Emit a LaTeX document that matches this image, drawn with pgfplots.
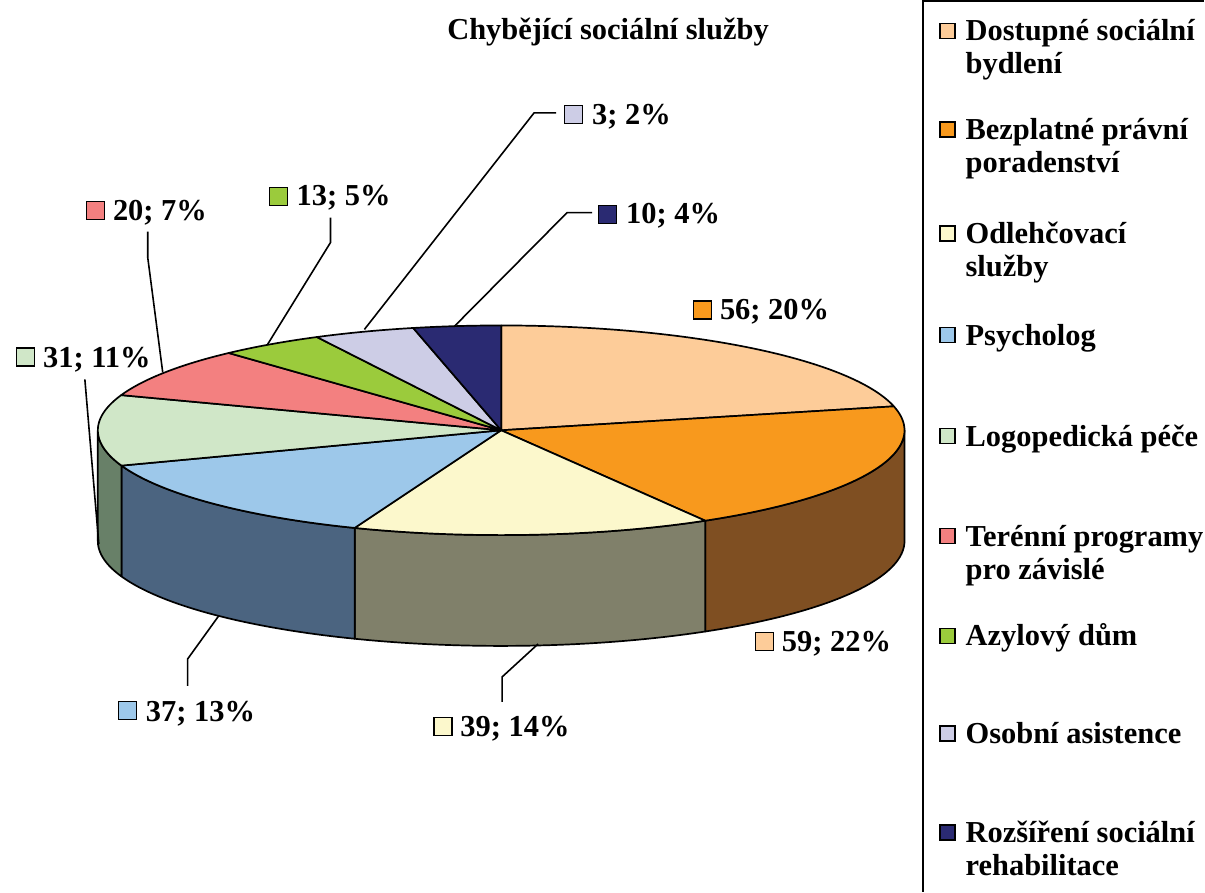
\documentclass[border=0pt]{standalone}
\usepackage{fontspec}
\setmainfont{Liberation Serif}
\usepackage{pgfplots}
\usepackage{pgfplotstable}
\pgfplotsset{compat=1.18}
\usepgfplotslibrary{fillbetween}

\definecolor{cPeach}{HTML}{FDCC99}
\definecolor{cOrange}{HTML}{F8991D}
\definecolor{cCream}{HTML}{FCF8CC}
\definecolor{cBlue}{HTML}{9DC8EA}
\definecolor{cLGreen}{HTML}{D0E7C8}
\definecolor{cPink}{HTML}{F38080}
\definecolor{cGreen}{HTML}{9BCB3C}
\definecolor{cLav}{HTML}{CDCDE6}
\definecolor{cNavy}{HTML}{2A2A72}
\definecolor{wOrange}{HTML}{7F4F22}
\definecolor{wCream}{HTML}{80806A}
\definecolor{wBlue}{HTML}{4B6480}
\definecolor{wLGreen}{HTML}{688068}

% slice sizes (degrees, as drawn), top colour, wall colour
\pgfplotstableread{
deg  top     wall
76.8 cPeach  wOrange
72.8 cOrange wOrange
51.7 cCream  wCream
49.0 cBlue   wBlue
39.3 cLGreen wLGreen
27.9 cPink   wLGreen
15.3 cGreen  wLGreen
14.6 cLav    wLGreen
12.6 cNavy   wLGreen
}\piedata

\newcommand\lbl[1]{\fontsize{30.5}{33}\selectfont\bfseries #1}

\begin{document}
\begin{tikzpicture}
\begin{axis}[
  width=1205pt, height=892pt, scale only axis,
  xmin=0, xmax=1205, ymin=0, ymax=892, y dir=reverse,
  hide axis, clip=false, enlargelimits=false,
]
\path (axis cs:0,0) rectangle (axis cs:1205,892);

% ---- walls (front half only)
\def\cum{90}
\pgfplotsforeachungrouped \i in {0,...,8}{%
  \pgfplotstablegetelem{\i}{deg}\of\piedata \let\dd\pgfplotsretval
  \pgfplotstablegetelem{\i}{wall}\of\piedata \let\wcol\pgfplotsretval
  \pgfmathsetmacro\sA{\cum}
  \pgfmathsetmacro\eA{\cum-\dd}
  \let\cum\eA
  \pgfmathsetmacro\ws{min(\sA,0)}
  \pgfmathsetmacro\we{max(\eA,-180)}
  \ifdim\ws pt>\we pt
    \edef\dowall{%
      \noexpand\addplot[draw=none, name path=T\i, domain=\we:\ws, samples=60] ({502+404*cos(x)},{431-105*sin(x)});
      \noexpand\addplot[draw=none, name path=B\i, domain=\we:\ws, samples=60] ({502+404*cos(x)},{542-105*sin(x)});
      \noexpand\addplot[fill=\wcol, draw=black, line width=1.7pt, line join=round] fill between[of=T\i\space and B\i];
    }%
    \dowall
  \fi
}

% ---- top surface
\def\cum{90}
\pgfplotsforeachungrouped \i in {0,...,8}{%
  \pgfplotstablegetelem{\i}{deg}\of\piedata \let\dd\pgfplotsretval
  \pgfplotstablegetelem{\i}{top}\of\piedata \let\tcol\pgfplotsretval
  \pgfmathsetmacro\sA{\cum}
  \pgfmathsetmacro\eA{\cum-\dd}
  \let\cum\eA
  \edef\dotop{%
    \noexpand\addplot[fill=\tcol, draw=black, line width=1.7pt, line join=round, domain=\eA:\sA, samples=80] ({502+404*cos(x)},{431-105*sin(x)}) -- (axis cs:502,431) -- cycle;
  }%
  \dotop
}

% ---- leader lines
\tikzset{lead/.style={black, line width=1.6pt}}
\addplot[lead] coordinates {(557,113) (535,113) (365,330)};
\addplot[lead] coordinates {(593,213) (568,213) (455,327)};
\addplot[lead] coordinates {(331,218) (331,243) (268,345)};
\addplot[lead] coordinates {(148,232) (148,258) (163,373)};
\addplot[lead] coordinates {(85,380) (99,545)};
\addplot[lead] coordinates {(219,617) (188,660) (188,687)};
\addplot[lead] coordinates {(539,645) (503,678) (503,703)};

% ---- data labels
\tikzset{key/.style={draw=black, line width=1.4pt, minimum size=18pt, inner sep=0, anchor=north west},
         txt/.style={anchor=base west, inner sep=0}}
\node[key, fill=cLav]    at (axis cs:565,105) {};
\node[txt] at (axis cs:593,125) {\lbl{3; 2\%}};
\node[key, fill=cNavy]   at (axis cs:599,205) {};
\node[txt] at (axis cs:627,224) {\lbl{10; 4\%}};
\node[key, fill=cOrange] at (axis cs:694,301) {};
\node[txt] at (axis cs:721,320) {\lbl{56; 20\%}};
\node[key, fill=cPink]   at (axis cs:86,201) {};
\node[txt] at (axis cs:113,221) {\lbl{20; 7\%}};
\node[key, fill=cGreen]  at (axis cs:269,187) {};
\node[txt] at (axis cs:297,206) {\lbl{13; 5\%}};
\node[key, fill=cLGreen] at (axis cs:16,348) {};
\node[txt] at (axis cs:43,368) {\lbl{31; 11\%}};
\node[key, fill=cPeach]  at (axis cs:756,633) {};
\node[txt] at (axis cs:783,653) {\lbl{59; 22\%}};
\node[key, fill=cCream]  at (axis cs:434,718) {};
\node[txt] at (axis cs:461,738) {\lbl{39; 14\%}};
\node[key, fill=cBlue]   at (axis cs:118,702) {};
\node[txt] at (axis cs:146,723) {\lbl{37; 13\%}};

% ---- title
\node[anchor=base, inner sep=0] at (axis cs:609,40) {\lbl{Chybějící sociální služby}};

% ---- legend
\draw[black, line width=2pt] (axis cs:925,893) -- (axis cs:925,1.5) -- (axis cs:1206,1.5);
\tikzset{lkey/.style={draw=black, line width=1.3pt, minimum size=15pt, inner sep=0, anchor=south west}}
\node[lkey, fill=cPeach]  at (axis cs:941,39) {};
\node[txt] at (axis cs:967,41) {\lbl{Dostupné sociální}};
\node[txt] at (axis cs:967,74) {\lbl{bydlení}};
\node[lkey, fill=cOrange] at (axis cs:941,138) {};
\node[txt] at (axis cs:967,140) {\lbl{Bezplatné právní}};
\node[txt] at (axis cs:967,173) {\lbl{poradenství}};
\node[lkey, fill=cCream]  at (axis cs:941,242) {};
\node[txt] at (axis cs:967,244) {\lbl{Odlehčovací}};
\node[txt] at (axis cs:967,277) {\lbl{služby}};
\node[lkey, fill=cBlue]   at (axis cs:941,344) {};
\node[txt] at (axis cs:967,346) {\lbl{Psycholog}};
\node[lkey, fill=cLGreen] at (axis cs:941,445) {};
\node[txt] at (axis cs:967,447) {\lbl{Logopedická péče}};
\node[lkey, fill=cPink]   at (axis cs:941,545) {};
\node[txt] at (axis cs:967,547) {\lbl{Terénní programy}};
\node[txt] at (axis cs:967,580) {\lbl{pro závislé}};
\node[lkey, fill=cGreen]  at (axis cs:941,645) {};
\node[txt] at (axis cs:967,647) {\lbl{Azylový dům}};
\node[lkey, fill=cLav]    at (axis cs:941,743) {};
\node[txt] at (axis cs:967,745) {\lbl{Osobní asistence}};
\node[lkey, fill=cNavy]   at (axis cs:941,842) {};
\node[txt] at (axis cs:967,844) {\lbl{Rozšíření sociální}};
\node[txt] at (axis cs:967,877) {\lbl{rehabilitace}};
\end{axis}
\end{tikzpicture}
\end{document}
